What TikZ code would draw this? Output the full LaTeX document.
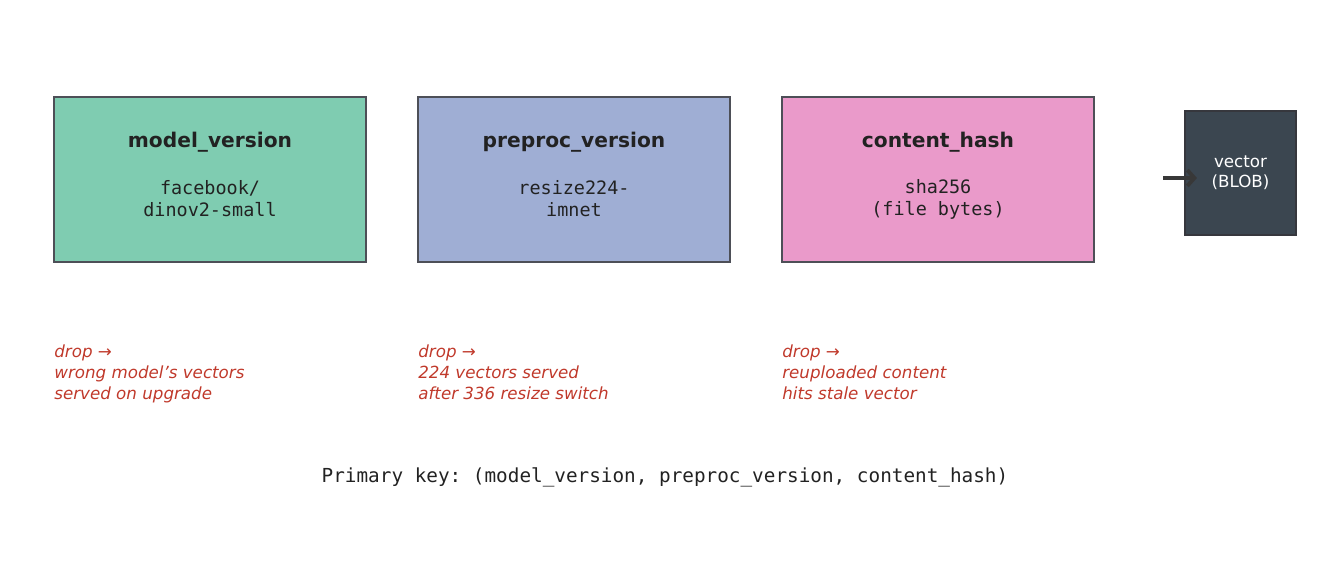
\documentclass[tikz,border=0pt]{standalone}
\usepackage{fontspec}
\setmainfont{DejaVu Sans}
\setmonofont{DejaVu Sans Mono}
\usetikzlibrary{arrows.meta, positioning}
\definecolor{KeyGreen}{HTML}{7FCCB1}
\definecolor{KeyBlue}{HTML}{9FAED4}
\definecolor{KeyPink}{HTML}{EA9ACA}
\definecolor{BlobGrey}{HTML}{3B4650}
\definecolor{EdgeGrey}{HTML}{4D4F57}
\definecolor{InkDark}{HTML}{222222}
\definecolor{DropRed}{HTML}{C0392B}
\tikzset{
    keybox/.style={rectangle, draw=EdgeGrey, line width=1.2pt,
                   minimum width=6.24cm, minimum height=3.3cm},
    keytitle/.style={font=\fontsize{11.5}{13}\selectfont\bfseries, text=InkDark},
    keyval/.style={font=\fontsize{10.5}{12.5}\selectfont\ttfamily, text=InkDark, align=center},
    dropnote/.style={font=\fontsize{9.5}{12}\selectfont\itshape, text=DropRed,
                     align=left, anchor=north west, inner sep=0pt}
}
\begin{document}
\begin{tikzpicture}
    \useasboundingbox (0,0) rectangle (26.6,-11.6);
    % Key column boxes
    \node[keybox, fill=KeyGreen] (model) at (4.2,-3.59) {};
    \node[keybox, fill=KeyBlue] (preproc) at (11.48,-3.59) {};
    \node[keybox, fill=KeyPink] (hash) at (18.76,-3.59) {};
    \node[rectangle, draw=EdgeGrey!70!black, line width=1.2pt, fill=BlobGrey,
          minimum width=2.22cm, minimum height=2.48cm, text=white,
          font=\fontsize{9.5}{11.5}\selectfont, align=center] (blob) at (24.81,-3.46) {vector\\(BLOB)};

    % Titles and values
    \node[keytitle] at ([yshift=-0.92cm]model.north) {model\_version};
    \node[keyval] at ([yshift=-2.06cm]model.north) {facebook/\\dinov2-small};
    \node[keytitle] at ([yshift=-0.92cm]preproc.north) {preproc\_version};
    \node[keyval] at ([yshift=-2.06cm]preproc.north) {resize224-\\imnet};
    \node[keytitle] at ([yshift=-0.92cm]hash.north) {content\_hash};
    \node[keyval] at ([yshift=-2.06cm]hash.north) {sha256\\(file bytes)};

    % Arrow into blob
    \coordinate (feed) at (23.26,-3.56);
    \draw[-{Straight Barb[length=4pt,width=9pt]}, line width=2.2pt, draw=InkDark!90]
        (feed) -- ([xshift=0.26cm,yshift=-0.1cm]blob.west);

    % Failure notes
    \node[dropnote] at (1.08,-6.88) {drop →\\wrong model's vectors\\served on upgrade};
    \node[dropnote] at (8.36,-6.88) {drop →\\224 vectors served\\after 336 resize switch};
    \node[dropnote] at (15.64,-6.88) {drop →\\reuploaded content\\hits stale vector};

    % Primary key
    \node[font=\fontsize{11}{13}\selectfont\ttfamily, text=InkDark] (pk) at (13.3,-9.54)
        {Primary key: (model\_version, preproc\_version, content\_hash)};
\end{tikzpicture}
\end{document}
